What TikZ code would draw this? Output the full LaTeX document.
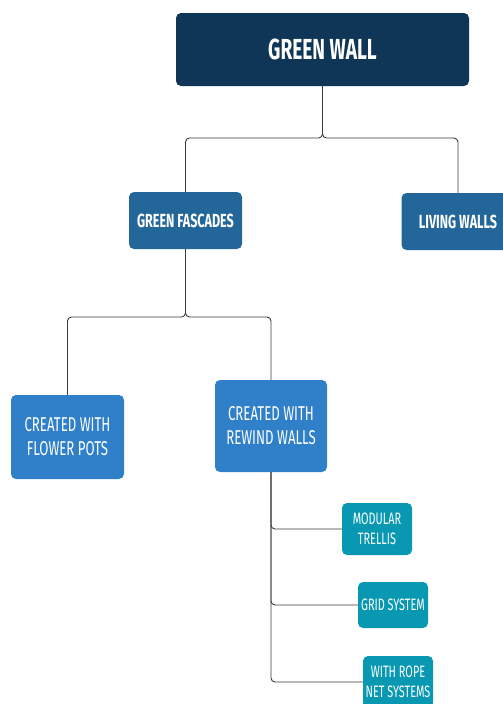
\documentclass[tikz,border=0pt]{standalone}
\usepackage{fontspec}
\newfontfamily\boxfont[FakeStretch=0.66]{Fira Sans}
\usepackage{xcolor}

\definecolor{navy}{HTML}{0F3557}
\definecolor{steel}{HTML}{236699}
\definecolor{skyblue}{HTML}{2F80C9}
\definecolor{teal}{HTML}{0898B2}
\definecolor{linegray}{HTML}{3A3A3A}

\begin{document}
\begin{tikzpicture}[
    x=1pt, y=-1pt,
    box/.style={rectangle, rounded corners=5pt, text=white, align=center, inner sep=0pt},
    topbox/.style={box, fill=navy, minimum width=293pt, minimum height=73pt,
        font=\boxfont\bfseries\fontsize{29}{34}\selectfont},
    midbox/.style={box, fill=steel, minimum width=113pt, minimum height=57pt,
        font=\boxfont\bfseries\fontsize{19}{23}\selectfont},
    subbox/.style={box, fill=skyblue, minimum width=113pt,
        font=\boxfont\fontsize{20}{24}\selectfont},
    leafbox/.style={box, fill=teal, minimum width=70pt,
        font=\boxfont\fontsize{16.5}{20}\selectfont},
    link/.style={draw=linegray, line width=0.9pt, rounded corners=4pt}
]
\clip (0,0) rectangle (503,704);
\fill[white] (0,0) rectangle (503,704);

% Nodes
\node[topbox] (wall) at (322.5,49.5) {GREEN WALL};

\node[midbox] (fascades) at (185.5,220.5) {GREEN FASCADES};
\node[midbox] (living) at (458,221.5) {LIVING WALLS};

\node[subbox, minimum height=84pt] (pots) at (67.5,437) {CREATED WITH\\FLOWER POTS};
\node[subbox, minimum width=112pt, minimum height=92pt] (rewind) at (271,426) {CREATED WITH\\REWIND WALLS};

\node[leafbox, minimum height=52pt] (trellis) at (377,529) {MODULAR\\TRELLIS};
\node[leafbox, minimum height=46pt] (grid) at (393,605) {GRID SYSTEM};
\node[leafbox, minimum height=52pt] (rope) at (398,682) {WITH ROPE\\NET SYSTEMS};

% Bus lines
\coordinate (bus1) at (0,138);
\coordinate (bus2) at (0,317);

% Connectors
\draw[link] (wall.south) -- (wall.south |- bus1) -| (fascades.north);
\draw[link] (wall.south) -- (wall.south |- bus1) -| (living.north);
\draw[link] (fascades.south) -- (fascades.south |- bus2) -| (pots.north);
\draw[link] (fascades.south) -- (fascades.south |- bus2) -| (rewind.north);
\draw[link] (rewind.south) |- (trellis.west);
\draw[link] (rewind.south) |- (grid.west);
\draw[link] (rewind.south) |- (rope.west);

\end{tikzpicture}
\end{document}
